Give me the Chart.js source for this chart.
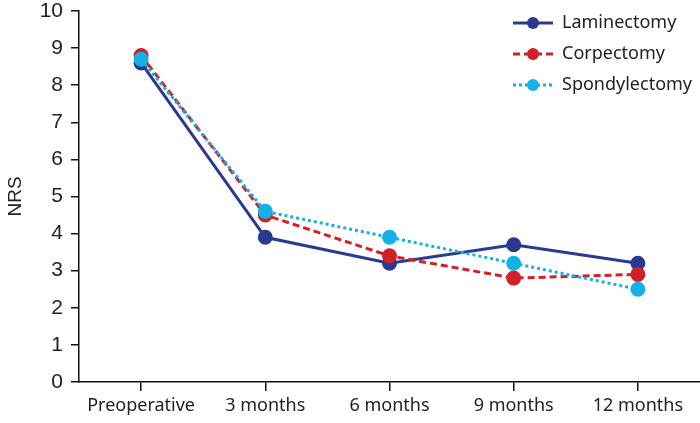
<!DOCTYPE html>
<html>
<head>
<meta charset="utf-8">
<script src="https://cdn.jsdelivr.net/npm/chart.js@4"></script>
<style>
  html, body { margin: 0; padding: 0; background: #fff; }
  #wrap { width: 700px; height: 423px; position: relative; }
</style>
</head>
<body>
<div id="wrap"><canvas id="nrsChart"></canvas></div>
<script>
const categories = ['Preoperative', '3 months', '6 months', '9 months', '12 months'];
const laminectomy = [8.6, 3.9, 3.2, 3.7, 3.2];
const corpectomy = [8.8, 4.5, 3.4, 2.8, 2.9];
const spondylectomy = [8.7, 4.6, 3.9, 3.2, 2.5];
const yTicks = [0, 1, 2, 3, 4, 5, 6, 7, 8, 9, 10];

const labelFont = '"Noto Sans", "Open Sans", sans-serif';
const numFont = '"Liberation Sans", Arial, sans-serif';

// legend with line sample + dot, drawn on canvas
const lineLegend = {
  id: 'lineLegend',
  afterDraw: function(chart) {
    const ctx = chart.ctx;
    chart.data.datasets.forEach(function(ds, i) {
      const y = 23 + i * 31;
      ctx.save();
      ctx.strokeStyle = ds.borderColor;
      ctx.lineWidth = ds.borderWidth;
      ctx.setLineDash(ds.borderDash || []);
      ctx.beginPath();
      ctx.moveTo(513, y);
      ctx.lineTo(553, y);
      ctx.stroke();
      ctx.setLineDash([]);
      ctx.fillStyle = ds.pointBackgroundColor;
      ctx.beginPath();
      ctx.arc(533, y, 6, 0, Math.PI * 2);
      ctx.fill();
      ctx.fillStyle = '#222';
      ctx.font = '18px ' + labelFont;
      ctx.textBaseline = 'middle';
      ctx.fillText(ds.label, 562, y);
      ctx.restore();
    });
  }
};

new Chart(document.getElementById('nrsChart'), {
  type: 'line',
  data: {
    labels: categories,
    datasets: [
      {
        label: 'Laminectomy',
        data: laminectomy,
        borderColor: '#2b3a8f',
        pointBackgroundColor: '#2b3a8f',
        pointBorderColor: '#2b3a8f',
        borderWidth: 3,
        pointRadius: 6,
        order: 3,
        tension: 0
      },
      {
        label: 'Corpectomy',
        data: corpectomy,
        borderColor: '#d0202a',
        pointBackgroundColor: '#d0202a',
        pointBorderColor: '#d0202a',
        borderWidth: 3,
        borderDash: [7, 4],
        pointRadius: 6,
        order: 2,
        tension: 0
      },
      {
        label: 'Spondylectomy',
        data: spondylectomy,
        borderColor: '#14b1e7',
        pointBackgroundColor: '#14b1e7',
        pointBorderColor: '#14b1e7',
        borderWidth: 3,
        borderDash: [3, 3],
        pointRadius: 6,
        order: 1,
        tension: 0
      }
    ]
  },
  options: {
    responsive: true,
    maintainAspectRatio: false,
    animation: false,
    layout: { autoPadding: false, padding: { top: 11, right: 0, left: 0, bottom: 0 } },
    plugins: {
      legend: { display: false },
      tooltip: { enabled: false }
    },
    scales: {
      x: {
        offset: true,
        border: { display: true, color: '#111', width: 1.5 },
        grid: { drawOnChartArea: false, drawTicks: true, tickLength: 9, color: '#111', lineWidth: 1.5 },
        ticks: { color: '#222', font: { size: 18, family: labelFont }, padding: 4, maxRotation: 0 },
        afterFit: function(scale) {
          scale.height = 41;
          scale.paddingLeft = 0;
          scale.paddingRight = 0;
        }
      },
      y: {
        min: 0,
        max: 10,
        afterBuildTicks: function(scale) { scale.ticks = yTicks.map(function(v) { return { value: v }; }); },
        border: { display: true, color: '#111', width: 1.5 },
        grid: { drawOnChartArea: false, drawTicks: true, tickLength: 8, color: '#111', lineWidth: 1.5 },
        ticks: { color: '#222', font: { size: 21, family: numFont }, padding: 8 },
        title: { display: true, text: 'NRS', color: '#222', font: { size: 19, family: numFont }, padding: 4 },
        afterFit: function(scale) {
          scale.width = 79;
          scale.paddingTop = 0;
          scale.paddingBottom = 0;
        }
      }
    }
  },
  plugins: [lineLegend]
});
</script>
</body>
</html>
